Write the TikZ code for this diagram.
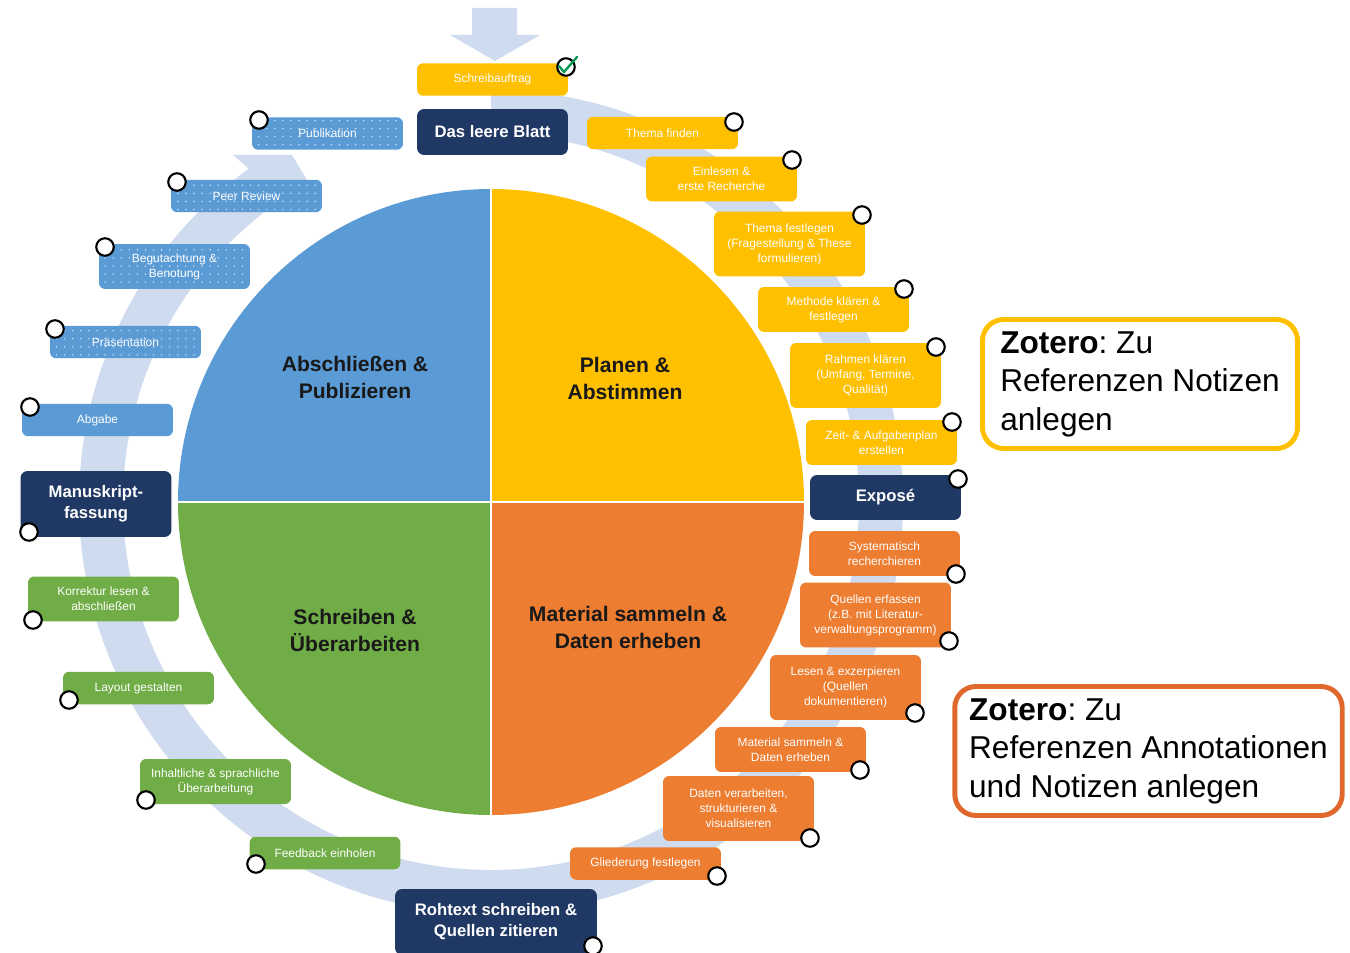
\documentclass[tikz,border=0pt]{standalone}
\usepackage{fontspec}
\setmainfont{Liberation Sans}
\frenchspacing
\usepackage{tikz}
\usetikzlibrary{patterns.meta}
\definecolor{quadblue}{RGB}{91,155,213}
\definecolor{quadyellow}{RGB}{255,192,0}
\definecolor{quadorange}{RGB}{237,125,49}
\definecolor{quadgreen}{RGB}{112,173,71}
\definecolor{navy}{RGB}{32,56,100}
\definecolor{ringblue}{RGB}{207,219,238}
\definecolor{zotorange}{RGB}{224,104,44}
\definecolor{checkgreen}{RGB}{0,150,80}
\tikzstyle{stepbox}=[rounded corners=3.5pt, minimum width=3.02cm, align=center, text=white, font={\fontsize{6.8}{8.5}\selectfont}, inner sep=1pt]
\tikzstyle{oneline}=[minimum height=0.65cm]
\tikzstyle{twoline}=[minimum height=0.9cm]
\tikzstyle{threeline}=[minimum height=1.3cm]
\tikzstyle{yellowstep}=[stepbox, fill=quadyellow]
\tikzstyle{orangestep}=[stepbox, fill=quadorange]
\tikzstyle{greenstep}=[stepbox, fill=quadgreen]
\tikzstyle{bluestep}=[stepbox, fill=quadblue]
\tikzstyle{dotbox}=[bluestep, postaction={pattern={Dots[distance=4.6pt, radius=0.45pt]}, pattern color=white!75!quadblue}]
\tikzstyle{milestone}=[rounded corners=4pt, fill=navy, text=white, align=center, font={\fontsize{9.5}{12}\selectfont\bfseries}, minimum width=3.02cm, inner sep=1pt]
\tikzstyle{knob}=[circle, draw=black, fill=white, line width=1.2pt, minimum size=0.35cm, inner sep=0pt]
\tikzstyle{quadlabel}=[align=center, font={\fontsize{12}{15.4}\selectfont\bfseries}, text=black!90]
\tikzstyle{zoterobox}=[rounded corners=12pt, line width=2.8pt, fill=white, align=left, font={\fontsize{18}{21.9}\selectfont}, minimum height=2.58cm]

\begin{document}
\begin{tikzpicture}[x=0.02cm, y=-0.02cm]
		\useasboundingbox (0,0) rectangle (1350,953);
		% ring arrow
		\fill[ringblue] (472,8) -- (517,8) -- (517,35) -- (540,35) -- (495,61) -- (450,35) -- (472,35) -- cycle;
		\fill[ringblue] (491,502) ++(-90:412) arc[start angle=-90, end angle=234, radius=412] -- (233,155) -- (292,155) -- (310,185) -- (290,210) -- ([shift={(491,502)}]234:368) arc[start angle=234, end angle=-90, radius=368] -- cycle;
		% pie
		\fill[quadblue] (491,502) -- +(-180:313) arc[start angle=-180, end angle=-90, radius=313] -- cycle;
		\fill[quadyellow] (491,502) -- +(-90:313) arc[start angle=-90, end angle=0, radius=313] -- cycle;
		\fill[quadorange] (491,502) -- +(0:313) arc[start angle=0, end angle=90, radius=313] -- cycle;
		\fill[quadgreen] (491,502) -- +(90:313) arc[start angle=90, end angle=180, radius=313] -- cycle;
		\draw[white, line width=1.2pt] (178,502) -- (804,502);
		\draw[white, line width=1.2pt] (491,189) -- (491,815);
		\node[quadlabel] (abschliessen) at (355,377) {Abschließen \&\\Publizieren};
		\node[quadlabel] (planen) at (625,378) {Planen \&\\Abstimmen};
		\node[quadlabel] (schreiben) at (355,630) {Schreiben \&\\Überarbeiten};
		\node[quadlabel] (material) at (628,627) {Material sammeln \&\\Daten erheben};
		% planen
		\node[yellowstep, oneline] (schreibauftrag) at (492.5,79.5) {Schreibauftrag};
		\node[milestone, minimum height=0.92cm] (leeresblatt) at (492.5,132) {Das leere Blatt};
		\node[yellowstep, oneline] (themafinden) at (662.5,133) {Thema finden};
		\node[yellowstep, twoline] (einlesen) at (721.5,179) {Einlesen \&\\erste Recherche};
		\node[yellowstep, threeline] (themafestlegen) at (789.5,244) {Thema festlegen\\(Fragestellung \& These\\formulieren)};
		\node[yellowstep, twoline] (methode) at (833.5,309.5) {Methode klären \&\\festlegen};
		\node[yellowstep, threeline] (rahmen) at (865.5,375.5) {Rahmen klären\\(Umfang, Termine,\\Qualität)};
		\node[yellowstep, twoline] (zeitplan) at (881.5,442.5) {Zeit- \& Aufgabenplan\\erstellen};
		\node[milestone, minimum height=0.9cm] (expose) at (885.5,497.5) {Exposé};
		% material
		\node[orangestep, twoline] (recherche) at (884.5,553.5) {Systematisch\\recherchieren};
		\node[orangestep, threeline] (quellen) at (875.5,615) {Quellen erfassen\\(z.B. mit Literatur-\\verwaltungsprogramm)};
		\node[orangestep, threeline] (lesen) at (845.5,687.5) {Lesen \& exzerpieren\\(Quellen\\dokumentieren)};
		\node[orangestep, twoline] (sammeln) at (790.5,749.5) {Material sammeln \&\\Daten erheben};
		\node[orangestep, threeline] (daten) at (738.5,808.5) {Daten verarbeiten,\\strukturieren \&\\visualisieren};
		\node[orangestep, oneline] (gliederung) at (645.5,863.5) {Gliederung festlegen};
		\node[milestone, minimum width=4.04cm, minimum height=1.32cm] (rohtext) at (496,922) {Rohtext schreiben \&\\Quellen zitieren};
		% schreiben
		\node[greenstep, oneline] (feedback) at (325,853) {Feedback einholen};
		\node[greenstep, twoline] (ueberarbeitung) at (215.5,781.5) {Inhaltliche \& sprachliche\\Überarbeitung};
		\node[greenstep, oneline] (layout) at (138.5,688) {Layout gestalten};
		\node[greenstep, twoline] (korrektur) at (103.5,599) {Korrektur lesen \&\\abschließen};
		\node[milestone, minimum height=1.32cm] (manuskript) at (96,504) {Manuskript-\\fassung};
		% abschliessen
		\node[bluestep, oneline] (abgabe) at (97.5,420) {Abgabe};
		\node[dotbox, oneline] (praesentation) at (125.5,342) {Präsentation};
		\node[dotbox, twoline] (begutachtung) at (174.5,266.5) {Begutachtung \&\\Benotung};
		\node[dotbox, oneline] (peerreview) at (246.5,196) {Peer Review};
		\node[dotbox, oneline] (publikation) at (327.5,133.5) {Publikation};
		% knobs
		\node[knob] (schreibauftragknob) at (566,67) {};
		\node[knob] (themafindenknob) at (734,122) {};
		\node[knob] (einlesenknob) at (792,160) {};
		\node[knob] (themafestlegenknob) at (862,215) {};
		\node[knob] (methodeknob) at (904,289) {};
		\node[knob] (rahmenknob) at (936,347) {};
		\node[knob] (zeitplanknob) at (952,422) {};
		\node[knob] (exposeknob) at (958,479) {};
		\node[knob] (rechercheknob) at (956,574) {};
		\node[knob] (quellenknob) at (949,641) {};
		\node[knob] (lesenknob) at (915,713) {};
		\node[knob] (sammelnknob) at (860,770) {};
		\node[knob] (datenknob) at (810,838) {};
		\node[knob] (gliederungknob) at (717,876) {};
		\node[knob] (rohtextknob) at (593,946) {};
		\node[knob] (feedbackknob) at (256,864) {};
		\node[knob] (ueberarbeitungknob) at (146,800) {};
		\node[knob] (layoutknob) at (69,700) {};
		\node[knob] (korrekturknob) at (33,620) {};
		\node[knob] (manuskriptknob) at (29,532) {};
		\node[knob] (abgabeknob) at (30,407) {};
		\node[knob] (praesentationknob) at (55,329) {};
		\node[knob] (begutachtungknob) at (105,247) {};
		\node[knob] (peerreviewknob) at (177,182) {};
		\node[knob] (publikationknob) at (259,120) {};
		\draw[checkgreen, line width=1.3pt, line cap=round] ([shift={(-7,-1)}]schreibauftragknob.center) -- ([shift={(-2,5)}]schreibauftragknob.center) -- ([shift={(11,-10)}]schreibauftragknob.center);
		% zotero
		\node[zoterobox, draw=quadyellow, minimum width=6.3cm] (zoteronotizen) at (1140,384) {\textbf{Zotero}: Zu\\Referenzen Notizen\\anlegen};
		\node[zoterobox, draw=zotorange, minimum width=7.75cm] (zoteroannotationen) at (1148.5,751) {\textbf{Zotero}: Zu\\Referenzen Annotationen\\und Notizen anlegen};
	\end{tikzpicture}
\end{document}
